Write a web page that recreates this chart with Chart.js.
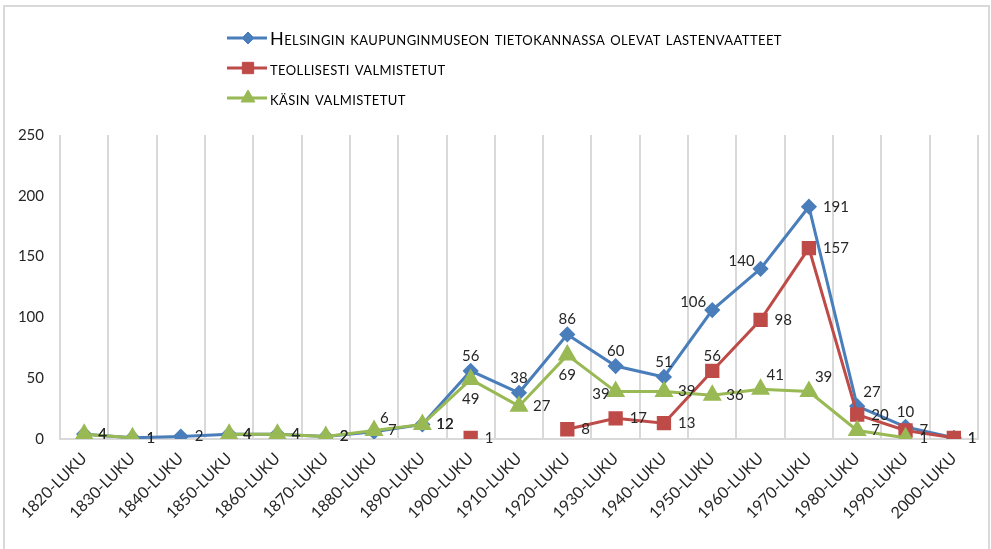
<!DOCTYPE html>
<html lang="fi">
<head>
<meta charset="utf-8">
<title>Lastenvaatteet vuosikymmenittäin</title>
<script src="https://cdn.jsdelivr.net/npm/chart.js@4.4.1/dist/chart.umd.min.js"></script>
<style>
  html, body { margin: 0; padding: 0; background: #fff; }
  #kehys { position: relative; width: 991px; height: 549px; }
</style>
</head>
<body>
<div id="kehys"><canvas id="kaavio"></canvas></div>
<script>
// vuosikymmenet x-akselille
const vuosikymmenet = ['1820-luku', '1830-luku', '1840-luku', '1850-luku', '1860-luku', '1870-luku',
  '1880-luku', '1890-luku', '1900-luku', '1910-luku', '1920-luku', '1930-luku', '1940-luku',
  '1950-luku', '1960-luku', '1970-luku', '1980-luku', '1990-luku', '2000-luku'];

// sarjojen nimet
const sarjaNimet = ['Helsingin kaupunginmuseon tietokannassa olevat lastenvaatteet',
  'teollisesti valmistetut', 'käsin valmistetut'];

// arvot (null = ei arvoa sille vuosikymmenelle)
const museonVaatteet = [4, 1, 2, 4, 4, 2, 6, 12, 56, 38, 86, 60, 51, 106, 140, 191, 27, 10, 1];
const teollisesti = [null, null, null, null, null, null, null, null, 1, null, 8, 17, 13, 56, 98, 157, 20, 7, 1];
const kasin = [4, 1, null, 4, 4, 2, 7, 12, 49, 27, 69, 39, 39, 36, 41, 39, 7, 1, null];

// y-akselin asteikko
const yMax = 250;
const yAskel = 50;

// arvotekstien paikat pisteeseen nähden (r = oikealla, a = yllä, b = alla, l = vasemmalla)
const paikatMuseo = ['r', 'r', 'r', 'r', 'r', 'r', 'ar', 'r', 'a', 'a', 'a', 'a', 'a', 'al', 'al', 'r', 'ar', 'a', 'r'];
const paikatTeoll = ['r', 'r', 'r', 'r', 'r', 'r', 'r', 'r', 'r', 'r', 'r', 'r', 'r', 'a', 'r', 'r', 'r', 'r', 'r'];
const paikatKasin = ['r', 'r', 'r', 'r', 'r', 'r', 'r', 'r', 'b', 'r', 'b', 'l', 'r', 'r', 'ar', 'ar', 'r', 'r', 'r'];

const FONTTI = 'Lato';

// kehys koko kuvan ympärille
const kehysViiva = {
  id: 'kehysViiva',
  beforeDraw(chart) {
    const ctx = chart.ctx;
    ctx.save();
    ctx.strokeStyle = '#d9d9d9';
    ctx.lineWidth = 2;
    ctx.strokeRect(4, 6, 985, 600);
    ctx.restore();
  }
};

// arvot pisteiden viereen
const arvoTekstit = {
  id: 'arvoTekstit',
  afterDatasetsDraw(chart) {
    const ctx = chart.ctx;
    ctx.save();
    ctx.font = '15px ' + FONTTI;
    ctx.fillStyle = '#262626';
    chart.data.datasets.forEach((ds, i) => {
      const meta = chart.getDatasetMeta(i);
      meta.data.forEach((p, j) => {
        const v = ds.data[j];
        if (v === null || v === undefined) return;
        const paikka = ds.paikat[j];
        let x = p.x, y = p.y;
        ctx.textBaseline = 'middle';
        if (paikka === 'r') { ctx.textAlign = 'left'; x += 14; }
        else if (paikka === 'a') { ctx.textAlign = 'center'; y -= 15; }
        else if (paikka === 'b') { ctx.textAlign = 'center'; y += 20; }
        else if (paikka === 'l') { ctx.textAlign = 'right'; x -= 6; y += 3; }
        else if (paikka === 'al') { ctx.textAlign = 'right'; x -= 6; y -= 8; }
        else if (paikka === 'ar') { ctx.textAlign = 'left'; x += 6; y -= 14; }
        ctx.fillText(String(v), x, y);
      });
    });
    ctx.restore();
  }
};

// selite pinottuna allekkain
const pinoSelite = {
  id: 'pinoSelite',
  afterDraw(chart) {
    const ctx = chart.ctx;
    const x0 = 227, y0 = 38, vali = 30;
    ctx.save();
    chart.data.datasets.forEach((ds, i) => {
      const y = y0 + i * vali;
      ctx.strokeStyle = ds.borderColor;
      ctx.lineWidth = 3;
      ctx.beginPath();
      ctx.moveTo(x0, y);
      ctx.lineTo(x0 + 40, y);
      ctx.stroke();
      ctx.fillStyle = ds.backgroundColor;
      ctx.lineWidth = 1;
      Chart.helpers.drawPoint(ctx, { pointStyle: ds.pointStyle, radius: ds.pointRadius, borderWidth: 1, rotation: 0 }, x0 + 21, y);
      ctx.font = 'small-caps 18px ' + FONTTI;
      if ('fontVariantCaps' in ctx) ctx.fontVariantCaps = 'small-caps';
      if ('letterSpacing' in ctx) ctx.letterSpacing = '0.4px';
      ctx.fillStyle = '#000';
      ctx.textAlign = 'left';
      ctx.textBaseline = 'middle';
      ctx.fillText(ds.label, x0 + 43, y + 1);
      if ('letterSpacing' in ctx) ctx.letterSpacing = '0px';
    });
    ctx.restore();
  }
};

const ctx = document.getElementById('kaavio');

new Chart(ctx, {
  type: 'line',
  data: {
    labels: vuosikymmenet,
    datasets: [
      {
        label: sarjaNimet[0],
        data: museonVaatteet,
        paikat: paikatMuseo,
        borderColor: '#4a7ebb',
        backgroundColor: '#4a7ebb',
        pointStyle: 'rectRot',
        pointRadius: 6,
        borderWidth: 3,
        order: 3,
      },
      {
        label: sarjaNimet[1],
        data: teollisesti,
        paikat: paikatTeoll,
        borderColor: '#be4b48',
        backgroundColor: '#be4b48',
        pointStyle: 'rect',
        pointRadius: 8,
        borderWidth: 3,
        order: 2,
      },
      {
        label: sarjaNimet[2],
        data: kasin,
        paikat: paikatKasin,
        borderColor: '#98b954',
        backgroundColor: '#98b954',
        pointStyle: 'triangle',
        pointRadius: 8,
        borderWidth: 3,
        order: 1,
      },
    ]
  },
  options: {
    responsive: true,
    maintainAspectRatio: false,
    animation: false,
    spanGaps: false,
    layout: { padding: { top: 135, right: 13, left: 0, bottom: 0 } },
    elements: {
      line: { tension: 0 },
      point: { borderWidth: 1, hoverRadius: 8 }
    },
    plugins: {
      legend: { display: false },
      tooltip: { enabled: false }
    },
    scales: {
      x: {
        offset: true,
        grid: { offset: true, color: '#d9d9d9', lineWidth: 2, drawTicks: false },
        border: { display: true, color: '#d9d9d9', width: 2 },
        afterFit: (s) => { s.height = 110; },
        ticks: {
          autoSkip: false,
          maxRotation: 45,
          minRotation: 45,
          padding: 10,
          color: '#262626',
          font: { family: FONTTI, size: 16 },
          // akselin tekstit isoin kirjaimin kuten kuvassa
          callback: (v, i) => vuosikymmenet[i].toUpperCase()
        }
      },
      y: {
        min: 0,
        max: yMax,
        grid: { display: false, drawTicks: false },
        border: { display: false },
        afterFit: (s) => { s.width = 60; },
        ticks: {
          stepSize: yAskel,
          padding: 16,
          color: '#262626',
          font: { family: FONTTI, size: 15 }
        }
      }
    }
  },
  plugins: [kehysViiva, arvoTekstit, pinoSelite]
});
</script>
</body>
</html>
